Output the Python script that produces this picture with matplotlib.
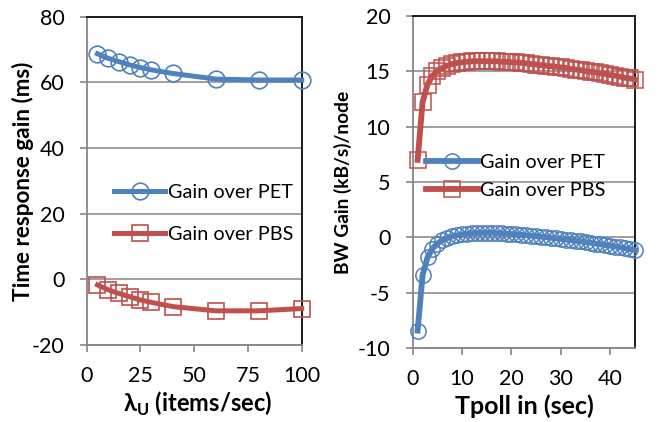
import matplotlib
matplotlib.use("Agg")
import matplotlib.pyplot as plt

# ---- data --------------------------------------------------------------- #
lam_u = [5, 10, 15, 20, 25, 30, 40, 60, 80, 100]
resp_pet = [68.7, 67.3, 66.3, 65.3, 64.5, 63.8, 62.7, 61.0, 60.7, 60.7]
resp_pbs = [-1.7, -3.2, -4.3, -5.3, -6.3, -7.0, -8.3, -9.6, -9.6, -8.9]

tpoll = list(range(1, 46))
bw_pet = [-8.4, -3.4, -1.8, -1.0, -0.55, -0.25, -0.05, 0.10, 0.20, 0.28,
          0.33, 0.37, 0.40, 0.42, 0.42, 0.42, 0.40, 0.38, 0.35, 0.32,
          0.28, 0.24, 0.20, 0.16, 0.12, 0.07, 0.02, -0.03, -0.08, -0.13,
          -0.19, -0.25, -0.30, -0.36, -0.42, -0.48, -0.55, -0.61, -0.68, -0.75,
          -0.82, -0.89, -0.97, -1.05, -1.15]
bw_pbs = [7.0, 12.2, 13.8, 14.6, 15.0, 15.3, 15.5, 15.65, 15.75, 15.8,
          15.85, 15.9, 15.9, 15.9, 15.9, 15.9, 15.9, 15.85, 15.85, 15.8,
          15.8, 15.75, 15.7, 15.65, 15.6, 15.55, 15.5, 15.45, 15.4, 15.35,
          15.3, 15.2, 15.15, 15.1, 15.0, 14.95, 14.9, 14.8, 14.75, 14.65,
          14.6, 14.5, 14.4, 14.35, 14.25]

left_xticks = [0, 25, 50, 75, 100]
left_yticks = [-20, 0, 20, 40, 60, 80]
right_xticks = [0, 10, 20, 30, 40]
right_yticks = [-10, -5, 0, 5, 10, 15, 20]

labels = ["Gain over PET", "Gain over PBS"]

# ---- style --------------------------------------------------------------- #
BLUE = "#4F81BD"
RED = "#C0504D"
GRAY = "#868686"
DARK = "#1a1a1a"
TICK_FS = 15.5
LEG_FS = 14.3

plt.rcParams.update({
    "font.family": ["Lato", "DejaVu Sans"],
    "font.size": 14,
    "axes.unicode_minus": False,
    "mathtext.fontset": "custom",
    "mathtext.rm": "Lato",
    "mathtext.bf": "Lato:bold",
})

fig = plt.figure(figsize=(6.62, 4.22), dpi=100)
fig.patch.set_facecolor("white")

ax1 = fig.add_axes([0.131, 0.1825, 0.3248, 0.778])
ax2 = fig.add_axes([0.6234, 0.1746, 0.3358, 0.788])


def style(ax):
    ax.yaxis.grid(True, color=GRAY, lw=1.1)
    ax.set_axisbelow(True)
    for sp in ("left", "bottom"):
        ax.spines[sp].set_color(GRAY)
        ax.spines[sp].set_linewidth(1.3)
    for sp in ("top", "right"):
        ax.spines[sp].set_color(DARK)
        ax.spines[sp].set_linewidth(1.4)
    ax.tick_params(axis="both", direction="out", length=5, width=1.2,
                   color=GRAY, labelsize=TICK_FS)
    ax.tick_params(axis="y", pad=11)
    ax.tick_params(axis="x", pad=10)


# ---- left: time response gain ------------------------------------------- #
ax1.plot(lam_u, resp_pet, color=BLUE, lw=3.6, marker="o", ms=12,
         mfc="none", mec=BLUE, mew=1.2, label=labels[0], clip_on=False, zorder=3)
ax1.plot(lam_u, resp_pbs, color=RED, lw=3.6, marker="s", ms=12,
         mfc="none", mec=RED, mew=1.2, label=labels[1], clip_on=False, zorder=3)
ax1.set_xlim(0, 100)
ax1.set_ylim(-20, 80)
ax1.set_xticks(left_xticks)
ax1.set_yticks(left_yticks)
style(ax1)
ax1.set_ylabel("Time response gain (ms)", fontweight="bold", fontsize=16.2)
ax1.set_xlabel(r"λ$_{\mathbf{U}}$ (items/sec)", fontweight="bold", fontsize=17)
ax1.yaxis.set_label_coords(-0.296, 0.5)
ax1.yaxis.label.set_va("center")
ax1.xaxis.set_label_coords(0.513, -0.178)
ax1.xaxis.label.set_va("center")
ax1.legend(loc="center left", bbox_to_anchor=(0.08, 0.40), frameon=False,
           handlelength=2.6, handletextpad=0.12, labelspacing=1.25,
           fontsize=LEG_FS, borderpad=0)

# ---- right: bandwidth gain ---------------------------------------------- #
ax2.plot(tpoll, bw_pet, color=BLUE, lw=4.2, marker="o", ms=11,
         mfc="none", mec=BLUE, mew=1.1, label=labels[0], clip_on=False, zorder=3)
ax2.plot(tpoll, bw_pbs, color=RED, lw=4.2, marker="s", ms=11,
         mfc="none", mec=RED, mew=1.1, label=labels[1], clip_on=False, zorder=3)
ax2.set_xlim(0, 45)
ax2.set_ylim(-10, 20)
ax2.set_xticks(right_xticks)
ax2.set_yticks(right_yticks)
style(ax2)
ax2.set_ylabel("BW Gain (kB/s)/node", fontweight="bold", fontsize=13.8)
ax2.set_xlabel("Tpoll in (sec)", fontweight="bold", fontsize=18)
ax2.yaxis.set_label_coords(-0.313, 0.5)
ax2.yaxis.label.set_va("center")
ax2.xaxis.set_label_coords(0.503, -0.174)
ax2.xaxis.label.set_va("center")
ax2.legend(loc="center left", bbox_to_anchor=(0.015, 0.516), frameon=False,
           handlelength=2.6, handletextpad=0.12, labelspacing=0.55,
           fontsize=LEG_FS, borderpad=0)

fig.savefig("out.png", dpi=100, facecolor="white")
